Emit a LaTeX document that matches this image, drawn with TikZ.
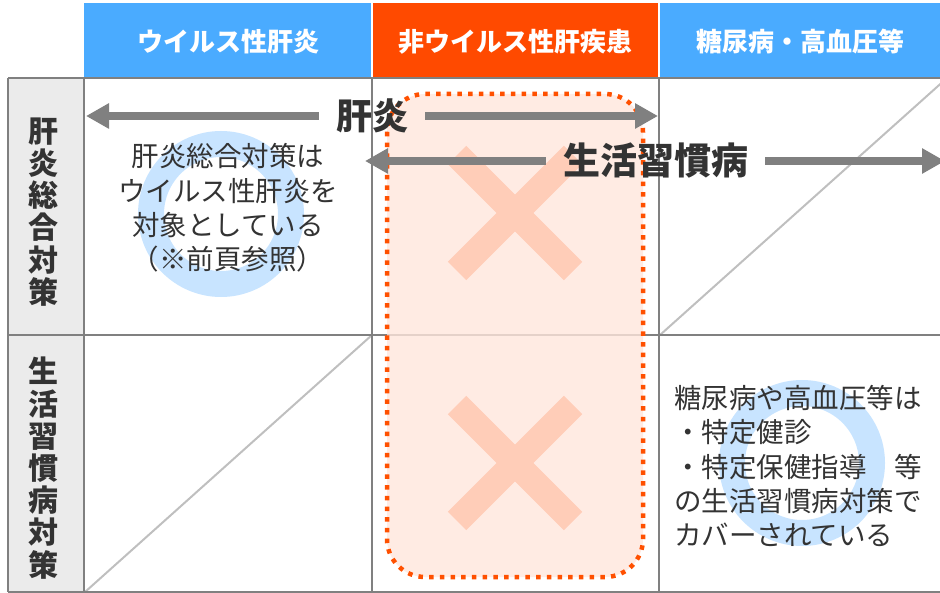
\documentclass[tikz,border=0pt]{standalone}
\usepackage{fontspec}
\setmainfont{Noto Sans CJK JP}
\usetikzlibrary{arrows.meta}
\definecolor{hblue}{HTML}{4AABFF}
\definecolor{horange}{HTML}{FF4A00}
\definecolor{gridc}{HTML}{808080}
\definecolor{diagc}{HTML}{BFBFBF}
\definecolor{labbg}{HTML}{EBEBEB}
\definecolor{pinkbg}{HTML}{FFE6DC}
\definecolor{xcol}{HTML}{FFCDB8}
\definecolor{ringc}{HTML}{C8E4FF}
\definecolor{txt}{HTML}{333333}
\definecolor{dots}{HTML}{FF5000}
\begin{document}
\begin{tikzpicture}[x=1pt,y=-1pt,
  headbox/.style={inner sep=0pt,text=white,font=\fontsize{26}{30}\selectfont\bfseries},
  rowlab/.style={align=center,text=txt,font=\fontsize{30}{32.2}\selectfont\bfseries,inner sep=0pt},
  gridline/.style={draw=gridc,line width=2pt},
  diagline/.style={draw=diagc,line width=2pt},
  xmark/.style={draw=xcol,line width=26pt,line cap=butt},
  ringst/.style={draw=ringc,line width=26pt},
  bigarrow/.style={draw=gridc,line width=7.5pt,-{Triangle[length=23pt,width=24pt]}},
  biglab/.style={text=txt,font=\fontsize{36}{40}\selectfont\bfseries,inner ysep=0pt,inner xsep=17pt},
  bodytext/.style={text=txt,font=\fontsize{27.5}{34.2}\selectfont,inner sep=0pt}]
\useasboundingbox (0,0) rectangle (940,593);
% header cells
\fill[hblue] (84,3) rectangle (371,78);
\fill[horange] (373,3) rectangle (658,78);
\fill[hblue] (660,3) rectangle (940,78);
\node[headbox] (h1) at (228,42) {ウイルス性肝炎};
\node[headbox] (h2) at (515,42) {非ウイルス性肝疾患};
\node[headbox] (h3) at (800,42) {糖尿病・高血圧等};
% label column
\fill[labbg] (8,78) rectangle (84,592);
% rings
\draw[ringst] (221,214) circle[radius=70];
\draw[ringst] (802,463) circle[radius=70];
% diagonals
\draw[diagline] (85,592) -- (372,335);
\draw[diagline] (660,335) -- (947,78);
% grid
\draw[gridline] (8,78) -- (940,78);
\draw[gridline] (8,335) -- (940,335);
\draw[gridline] (8,592) -- (940,592);
\draw[gridline] (8,78) -- (8,592);
\draw[gridline] (84,78) -- (84,592);
\draw[gridline] (372,78) -- (372,592);
\draw[gridline] (659,78) -- (659,592);
% pink region
\fill[pinkbg,fill opacity=0.8,rounded corners=38pt] (387,94) rectangle (643,577);
% crosses
\draw[xmark] (457,155) -- (573,271);
\draw[xmark] (457,271) -- (573,155);
\draw[xmark] (457,405) -- (573,521);
\draw[xmark] (457,521) -- (573,405);
% dotted border
\draw[dots,line width=4.5pt,dash pattern=on 4.5pt off 6.2pt,rounded corners=38pt] (387,94) rectangle (643,577);
% row labels
\node[rowlab] (r1) at (43,212) {肝\\炎\\総\\合\\対\\策};
\node[rowlab] (r2) at (43,468) {生\\活\\習\\慣\\病\\対\\策};
% big arrows
\node[biglab] (k) at (372,116) {肝炎};
\coordinate (kl) at (86,116);
\coordinate (kr) at (658,116);
\draw[bigarrow] (k.west) -- (kl);
\draw[bigarrow] (k.east) -- (kr);
\node[biglab,font=\fontsize{37}{40}\selectfont\bfseries] (s) at (655.5,161) {生活習慣病};
\coordinate (sl) at (365,161);
\coordinate (sr) at (945,161);
\draw[bigarrow] (s.west) -- (sl);
\draw[bigarrow] (s.east) -- (sr);
% body texts
\node[bodytext,align=center] (t1) at (228,208) {肝炎総合対策は\\ウイルス性肝炎を\\対象としている\\（※前頁参照）};
\node[bodytext,align=left,anchor=west] (t2) at (674,466) {糖尿病や高血圧等は\\・特定健診\\・特定保健指導　等\\の生活習慣病対策で\\カバーされている};
\end{tikzpicture}
\end{document}
